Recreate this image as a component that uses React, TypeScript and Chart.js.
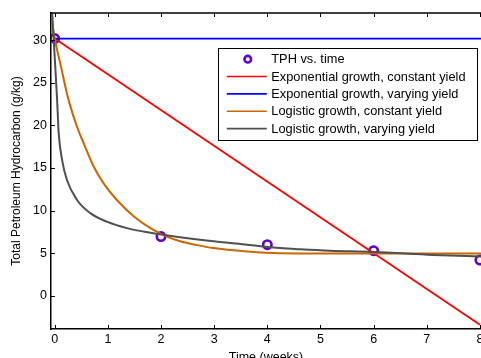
import React, { useEffect, useRef } from "react";
import { Chart, registerables } from "chart.js";

Chart.register(...registerables);

// ---- data ----
const tphWeeks = [0, 2, 4, 6, 8];
const tphValues = [30.2, 6.95, 6.0, 5.3, 4.2];

const expConstWeeks = [0, 8];
const expConstValues = [30.2, -3.4];

const expVaryWeeks = [0, 8.05];
const expVaryValues = [30.2, 30.2];

const logConstWeeks = [-0.07, 0, 0.1, 0.26, 0.42, 0.545, 0.73, 0.92, 1.17, 1.49, 1.8, 2.11, 2.36, 2.64, 2.98, 3.62, 4.24, 5.18, 6, 7, 8.05];
const logConstValues = [33.0, 30.2, 27.4, 23.0, 19.85, 17.9, 15.2, 13.2, 11.25, 9.3, 7.94, 6.95, 6.4, 6.0, 5.6, 5.2, 5.0, 4.97, 4.96, 4.96, 4.96];

const logVaryWeeks = [-0.05, 0, 0.045, 0.075, 0.14, 0.23, 0.42, 0.67, 0.98, 1.36, 1.8, 2.36, 2.99, 3.62, 4.24, 4.62, 5.18, 6, 7.12, 8.05];
const logVaryValues = [33.4, 28.0, 23.0, 19.1, 15.9, 13.6, 11.25, 9.7, 8.7, 7.94, 7.4, 6.88, 6.4, 6.0, 5.6, 5.45, 5.28, 5.15, 4.8, 4.6];

const xTickValues = [0, 1, 2, 3, 4, 5, 6, 7, 8];
const yTickValues = [0, 5, 10, 15, 20, 25, 30];

const seriesLabels = [
  "TPH vs. time",
  "Exponential growth, constant yield",
  "Exponential growth, varying yield",
  "Logistic growth, constant yield",
  "Logistic growth, varying yield",
];
const seriesColors = ["#6000c8", "#ff0000", "#0000ff", "#cc6600", "#505050"];

const xTitle = "Time (weeks)";
const yTitle = "Total Petroleum Hydrocarbon (g/kg)";

const FONT = "'Liberation Sans', Arial, Helvetica, sans-serif";

const VIEW_W = 481;
const VIEW_H = 358;

const toPoints = (xs: number[], ys: number[]) => xs.map((x, i) => ({ x, y: ys[i] }));

const matlabFrame = {
  id: "matlabFrame",
  afterDraw(chart: any) {
    const { ctx, chartArea: a, scales } = chart;
    ctx.save();
    // top border of the box
    ctx.strokeStyle = "#000";
    ctx.lineWidth = 1.5;
    ctx.beginPath();
    ctx.moveTo(a.left, a.top);
    ctx.lineTo(a.right, a.top);
    ctx.stroke();
    // inward ticks
    ctx.lineWidth = 1;
    const tl = 4;
    ctx.beginPath();
    for (const v of xTickValues) {
      const x = Math.round(scales.x.getPixelForValue(v)) + 0.5;
      ctx.moveTo(x, a.bottom);
      ctx.lineTo(x, a.bottom - tl);
      ctx.moveTo(x, a.top);
      ctx.lineTo(x, a.top + tl);
    }
    for (const v of yTickValues) {
      const y = Math.round(scales.y.getPixelForValue(v)) + 0.5;
      ctx.moveTo(a.left, y);
      ctx.lineTo(a.left + tl, y);
    }
    ctx.stroke();

    // legend box
    const bx = a.left + 167.3;
    const by = a.top + 34.5;
    const bw = 259;
    const bh = 92;
    ctx.fillStyle = "#fff";
    ctx.fillRect(bx, by, bw, bh);
    ctx.strokeStyle = "#000";
    ctx.lineWidth = 1;
    ctx.strokeRect(Math.round(bx) + 0.5, Math.round(by) + 0.5, bw, bh);
    const datasets = chart.data.datasets;
    ctx.font = `12.8px ${FONT}`;
    ctx.textBaseline = "middle";
    ctx.textAlign = "left";
    datasets.forEach((ds: any, i: number) => {
      const y = by + 11.7 + i * 17.35;
      if (i === 0) {
        ctx.beginPath();
        ctx.arc(bx + 29.5, y, 3.3, 0, Math.PI * 2);
        ctx.strokeStyle = ds.pointBorderColor;
        ctx.lineWidth = 2.6;
        ctx.stroke();
      } else {
        ctx.beginPath();
        ctx.moveTo(bx + 8.5, y);
        ctx.lineTo(bx + 48.5, y);
        ctx.strokeStyle = ds.borderColor;
        ctx.lineWidth = 1.6;
        ctx.stroke();
      }
      ctx.fillStyle = "#000";
      ctx.fillText(ds.label, bx + 53, y + 0.5);
    });
    ctx.restore();
  },
};

export default function App() {
  const ref = useRef<HTMLCanvasElement | null>(null);

  useEffect(() => {
    if (!ref.current) return;
    const chart = new Chart(ref.current, {
      type: "scatter",
      data: {
        datasets: [
          {
            label: seriesLabels[0],
            data: toPoints(tphWeeks, tphValues),
            showLine: false,
            pointRadius: 4.2,
            pointBorderWidth: 2.6,
            pointBorderColor: seriesColors[0],
            pointBackgroundColor: "rgba(0,0,0,0)",
            borderColor: seriesColors[0],
            order: 5,
          },
          {
            label: seriesLabels[1],
            data: toPoints(expConstWeeks, expConstValues),
            showLine: true,
            borderColor: seriesColors[1],
            borderWidth: 1.8,
            pointRadius: 0,
            order: 4,
          },
          {
            label: seriesLabels[2],
            data: toPoints(expVaryWeeks, expVaryValues),
            showLine: true,
            borderColor: seriesColors[2],
            borderWidth: 1.8,
            pointRadius: 0,
            order: 3,
          },
          {
            label: seriesLabels[3],
            data: toPoints(logConstWeeks, logConstValues),
            showLine: true,
            borderColor: seriesColors[3],
            borderWidth: 2,
            pointRadius: 0,
            cubicInterpolationMode: "monotone",
            order: 2,
          },
          {
            label: seriesLabels[4],
            data: toPoints(logVaryWeeks, logVaryValues),
            showLine: true,
            borderColor: seriesColors[4],
            borderWidth: 2,
            pointRadius: 0,
            cubicInterpolationMode: "monotone",
            order: 1,
          },
        ],
      },
      options: {
        responsive: false,
        animation: false,
        layout: { autoPadding: false, padding: { top: 13, right: 0, bottom: 0, left: 0 } },
        plugins: { legend: { display: false }, tooltip: { enabled: false } },
        scales: {
          x: {
            type: "linear",
            min: -0.07,
            max: 8.02,
            afterBuildTicks: (s: any) => {
              s.ticks = xTickValues.map((v) => ({ value: v }));
            },
            afterFit: (s: any) => {
              s.height = 29;
              s.paddingLeft = 0;
              s.paddingRight = 0;
            },
            grid: { display: false, drawTicks: false },
            border: { display: true, color: "#000", width: 1.5 },
            ticks: {
              padding: 3,
              color: "#000",
              font: { family: FONT, size: 12.5 },
              maxRotation: 0,
              autoSkip: false,
              callback: (v: any) => String(v),
            },
            title: {
              display: true,
              text: xTitle,
              color: "#000",
              font: { family: FONT, size: 12.5 },
              padding: { top: 0, bottom: -7 },
            },
          },
          y: {
            type: "linear",
            min: -3.9,
            max: 33.2,
            afterBuildTicks: (s: any) => {
              s.ticks = yTickValues.map((v) => ({ value: v }));
            },
            afterFit: (s: any) => {
              s.width = 51;
              s.paddingTop = 0;
              s.paddingBottom = 0;
            },
            grid: { display: false, drawTicks: false },
            border: { display: true, color: "#000", width: 1.5 },
            ticks: {
              padding: 4,
              color: "#000",
              font: { family: FONT, size: 12.5 },
              autoSkip: false,
              callback: (v: any) => String(v),
            },
            title: {
              display: true,
              text: yTitle,
              color: "#000",
              font: { family: FONT, size: 12 },
              padding: { top: 9.5, bottom: 0 },
            },
          },
        },
      },
      plugins: [matlabFrame],
    } as any);

    return () => chart.destroy();
  }, []);

  return (
    <div
      style={{
        position: "fixed",
        left: 0,
        top: 0,
        width: VIEW_W,
        height: VIEW_H,
        overflow: "hidden",
        background: "#fff",
      }}
    >
      <canvas ref={ref} width={VIEW_W} height={VIEW_H} style={{ display: "block" }} />
    </div>
  );
}
